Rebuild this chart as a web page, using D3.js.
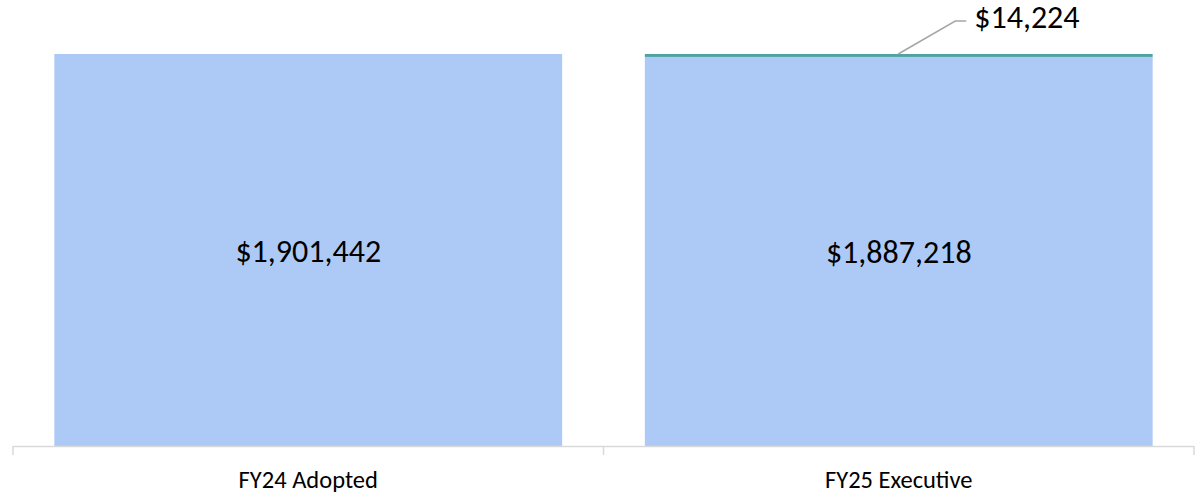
<!DOCTYPE html>
<html><head><meta charset="utf-8">
<script src="https://cdn.jsdelivr.net/npm/d3@7"></script>
<style>
html,body{margin:0;padding:0;background:#fff;}
svg{display:block;font-family:Calibri,Carlito,Lato,"Noto Sans",sans-serif;}
</style></head>
<body><svg id="chart" width="1201" height="498"></svg>
<script>
const categories = ["FY24 Adopted", "FY25 Executive"];
const baseValues = [1901442, 1887218];
const changeValues = [0, 14224];
const baseLabels = ["$1,901,442", "$1,887,218"];
const changeLabels = ["", "$14,224"];

(function(){
const svg = d3.select("#chart");
const mLeft = 13, mRight = 1194, mBase = 446, mTop = 54;

const x = d3.scaleBand().domain(categories).range([mLeft, mRight]).paddingInner(0.14).paddingOuter(0.07);
const maxTotal = d3.max(baseValues.map((v, i) => v + changeValues[i]));
const y = d3.scaleLinear().domain([0, maxTotal]).range([mBase, mTop]);

const data = categories.map((c, i) => ({c, b: baseValues[i], d: changeValues[i], bl: baseLabels[i], dl: changeLabels[i]}));

svg.selectAll("rect.base").data(data).join("rect").attr("class", "base")
  .attr("x", d => x(d.c)).attr("width", x.bandwidth())
  .attr("y", d => y(d.b)).attr("height", d => y(0) - y(d.b))
  .attr("fill", "#adcaf7");

svg.selectAll("rect.chg").data(data.filter(d => d.d > 0)).join("rect").attr("class", "chg")
  .attr("x", d => x(d.c)).attr("width", x.bandwidth())
  .attr("y", d => y(d.b + d.d)).attr("height", d => y(d.b) - y(d.b + d.d))
  .attr("fill", "#4fa3a5");

svg.selectAll("text.bl").data(data).join("text").attr("class", "bl")
  .attr("x", d => x(d.c) + x.bandwidth() / 2)
  .attr("y", d => (y(d.b) + y(0)) / 2 + 11.5)
  .attr("text-anchor", "middle")
  .attr("font-size", 32).attr("fill", "#000").text(d => d.bl);

data.filter(d => d.d > 0).forEach(d => {
  const yy = y(d.b + d.d);
  const x0 = x(d.c) + x.bandwidth() / 2 - 0.5;
  const pts = [[x0, yy], [x0 + 57, yy - 33], [x0 + 68, yy - 33]];
  svg.append("path").attr("d", d3.line()(pts)).attr("fill", "none")
    .attr("stroke", "#a6a6a6").attr("stroke-width", 1.5);
  svg.append("text").attr("x", x0 + 76).attr("y", yy - 26)
    .attr("font-size", 32).attr("fill", "#000").text(d.dl);
});

const axisG = svg.append("g").attr("transform", `translate(0,${mBase})`);
axisG.append("line").attr("x1", mLeft).attr("x2", mRight).attr("y1", 0.5).attr("y2", 0.5)
  .attr("stroke", "#d9d9d9").attr("stroke-width", 1.5);
const tickXs = [mLeft, (mLeft + mRight) / 2, mRight];
axisG.selectAll("line.tick").data(tickXs).join("line").attr("class", "tick")
  .attr("x1", d => d).attr("x2", d => d).attr("y1", 0).attr("y2", 9)
  .attr("stroke", "#d9d9d9").attr("stroke-width", 1.5);
axisG.selectAll("text.cat").data(categories).join("text").attr("class", "cat")
  .attr("x", d => x(d) + x.bandwidth() / 2).attr("y", 42)
  .attr("text-anchor", "middle")
  .attr("font-size", 24.5).attr("fill", "#000").text(d => d);
})();
</script></body></html>
